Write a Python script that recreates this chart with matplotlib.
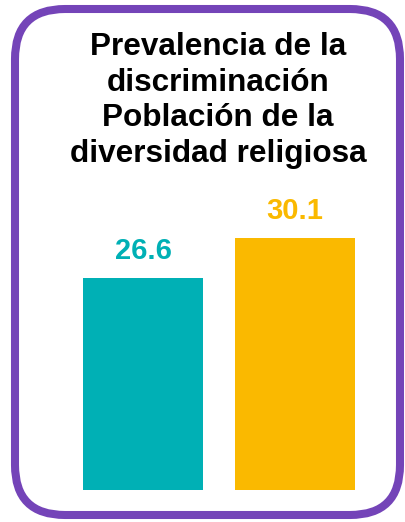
import matplotlib.pyplot as plt
from matplotlib.patches import FancyBboxPatch

# datos
grupos = ["Grupo A", "Grupo B"]
valores = [26.6, 30.1]
colores = ["#00B0B5", "#FAB900"]
titulo = "Prevalencia de la\ndiscriminación\nPoblación de la\ndiversidad religiosa"

W, H = 405, 522
fig = plt.figure(figsize=(W / 100, H / 100), dpi=100)

# eje de las barras: su base en el pixel 490
base_px = 490
ax = fig.add_axes([0, (H - base_px) / H, 1, base_px / H])
escala = 11.43  # px por unidad
y0 = 8.05
ax.bar(range(len(valores)), valores, width=0.79, color=colores)
ax.set_xlim(-143 / 152, (W - 143) / 152)
ax.set_ylim(y0, y0 + base_px / escala)
ax.axis("off")

for i, (v, c) in enumerate(zip(valores, colores)):
    ax.annotate(f"{v:.1f}", (i, v), xytext=(0, 13), textcoords="offset pixels",
                ha="center", va="bottom", color=c, fontsize=21,
                fontweight="bold", family="Liberation Sans")

# marco redondeado y titulo en coordenadas de pixel
ov = fig.add_axes([0, 0, 1, 1], zorder=-1)
ov.set_xlim(0, W)
ov.set_ylim(H, 0)
ov.axis("off")
marco = FancyBboxPatch((15, 9), 385, 506,
                       boxstyle="round,pad=0,rounding_size=50",
                       fill=False, edgecolor="#7444B8", linewidth=5.8)
ov.add_patch(marco)
ov.text(218, 32, titulo, ha="center", va="top", fontsize=22.7,
        fontweight="bold", family="Liberation Sans", linespacing=1.24,
        color="black")

fig.savefig("out.png", dpi=100)
